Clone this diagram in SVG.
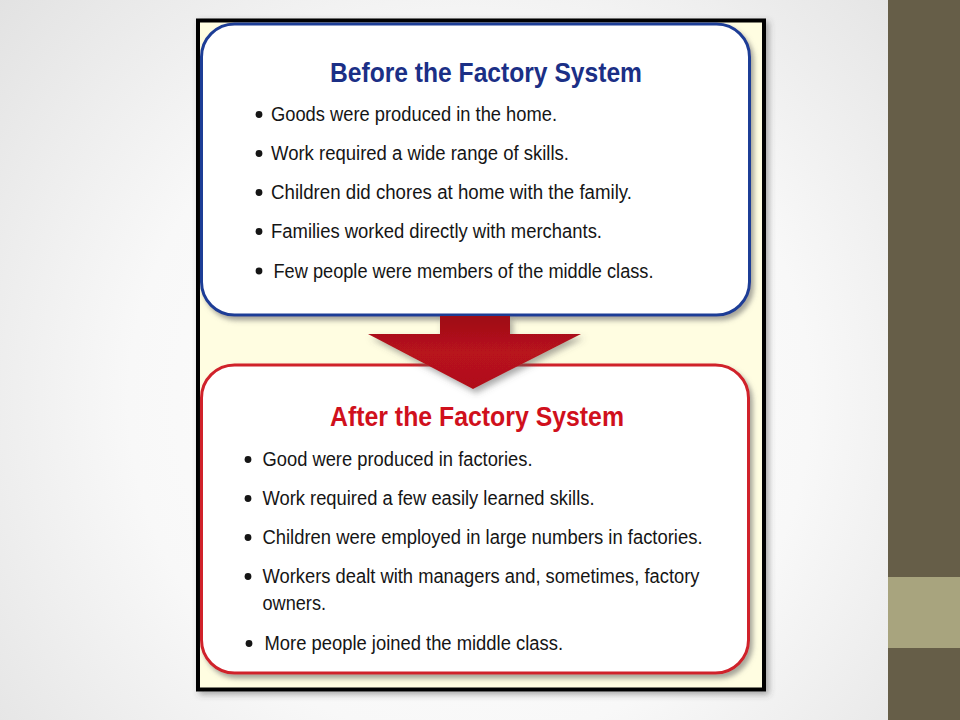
<svg xmlns="http://www.w3.org/2000/svg" width="960" height="720" viewBox="0 0 960 720">
  <defs>
    <radialGradient id="bg" cx="470" cy="400" r="620" gradientUnits="userSpaceOnUse">
      <stop offset="0" stop-color="#ffffff"/>
      <stop offset="0.55" stop-color="#f8f8f8"/>
      <stop offset="1" stop-color="#e2e2e2"/>
    </radialGradient>
    <linearGradient id="arrowFill" x1="0" y1="0" x2="0" y2="1">
      <stop offset="0" stop-color="#9e0f17"/>
      <stop offset="0.5" stop-color="#b8121c"/>
      <stop offset="1" stop-color="#b01019"/>
    </linearGradient>
    <filter id="boxShadow" x="-5%" y="-5%" width="112%" height="115%">
      <feDropShadow dx="3" dy="4" stdDeviation="2.5" flood-color="#6a6a6a" flood-opacity="0.6"/>
    </filter>
    <filter id="frameShadow" x="-5%" y="-5%" width="112%" height="112%">
      <feDropShadow dx="3" dy="3" stdDeviation="3" flood-color="#444" flood-opacity="0.45"/>
    </filter>
    <filter id="arrowShadow" x="-10%" y="-10%" width="125%" height="130%">
      <feDropShadow dx="3" dy="4" stdDeviation="3" flood-color="#555" flood-opacity="0.5"/>
    </filter>
  </defs>
  <style>
    .title { font-family: "Liberation Sans", Arial, sans-serif; font-weight: bold; font-size: 27px; }
    .blueTitle { fill: #1b2f86; }
    .redTitle { fill: #d0101c; }
    .item { font-family: "Liberation Sans", Arial, sans-serif; font-size: 20px; fill: #151515; }
    .dot { fill: #151515; }
    .boxBlue { fill: #ffffff; stroke: #1f3c96; stroke-width: 3; }
    .boxRed { fill: #ffffff; stroke: #d0202a; stroke-width: 3; }
  </style>

  <!-- slide background -->
  <rect x="0" y="0" width="960" height="720" fill="url(#bg)"/>
  <rect x="888" y="0" width="72" height="720" fill="#665e48"/>
  <rect x="888" y="577" width="72" height="71" fill="#a8a47e"/>

  <!-- picture frame -->
  <rect x="198" y="20.5" width="566" height="669" fill="#fffde1" stroke="#000000" stroke-width="4" filter="url(#frameShadow)"/>

  <!-- top node -->
  <g id="before">
    <rect class="boxBlue" x="201.5" y="24" width="548" height="291" rx="33" ry="33" filter="url(#boxShadow)"/>
    <text class="title blueTitle" x="330" y="82" textLength="312" lengthAdjust="spacingAndGlyphs">Before the Factory System</text>
    <circle class="dot" cx="259" cy="114.5" r="3.4"/>
    <text class="item" x="271" y="121" textLength="286" lengthAdjust="spacingAndGlyphs">Goods were produced in the home.</text>
    <circle class="dot" cx="259" cy="153.5" r="3.4"/>
    <text class="item" x="271" y="160" textLength="298" lengthAdjust="spacingAndGlyphs">Work required a wide range of skills.</text>
    <circle class="dot" cx="259" cy="192.5" r="3.4"/>
    <text class="item" x="271" y="199" textLength="361" lengthAdjust="spacingAndGlyphs">Children did chores at home with the family.</text>
    <circle class="dot" cx="259" cy="231.5" r="3.4"/>
    <text class="item" x="271" y="238" textLength="331" lengthAdjust="spacingAndGlyphs">Families worked directly with merchants.</text>
    <circle class="dot" cx="259" cy="271" r="3.4"/>
    <text class="item" x="273.5" y="278" textLength="380" lengthAdjust="spacingAndGlyphs">Few people were members of the middle class.</text>
  </g>

  <!-- bottom node -->
  <g id="after">
    <rect class="boxRed" x="201.5" y="365" width="547" height="308" rx="33" ry="33" filter="url(#boxShadow)"/>
  </g>

  <!-- connector -->
  <g id="connectors">
    <path d="M440,316 L510,316 L510,334 L581,334 L473,389 L368,334 L440,334 Z" fill="url(#arrowFill)" filter="url(#arrowShadow)"/>
  </g>

  <!-- bottom node texts (above arrow layer) -->
  <g id="after-text">
    <text class="title redTitle" x="330" y="426" textLength="294" lengthAdjust="spacingAndGlyphs">After the Factory System</text>
    <circle class="dot" cx="248" cy="459.5" r="3.4"/>
    <text class="item" x="262.5" y="466" textLength="270" lengthAdjust="spacingAndGlyphs">Good were produced in factories.</text>
    <circle class="dot" cx="248" cy="498.5" r="3.4"/>
    <text class="item" x="262.5" y="505" textLength="332" lengthAdjust="spacingAndGlyphs">Work required a few easily learned skills.</text>
    <circle class="dot" cx="248" cy="537.5" r="3.4"/>
    <text class="item" x="262.5" y="544" textLength="440" lengthAdjust="spacingAndGlyphs">Children were employed in large numbers in factories.</text>
    <circle class="dot" cx="248" cy="576.5" r="3.4"/>
    <text class="item" x="262.5" y="583" textLength="437" lengthAdjust="spacingAndGlyphs">Workers dealt with managers and, sometimes, factory</text>
    <text class="item" x="262.5" y="610" textLength="63.5" lengthAdjust="spacingAndGlyphs">owners.</text>
    <circle class="dot" cx="249" cy="643.5" r="3.4"/>
    <text class="item" x="264.5" y="650" textLength="298.5" lengthAdjust="spacingAndGlyphs">More people joined the middle class.</text>
  </g>
</svg>
